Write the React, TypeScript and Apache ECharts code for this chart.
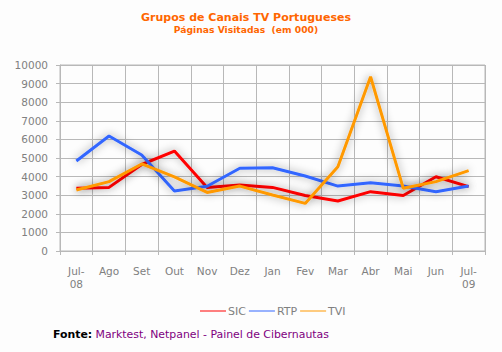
import React, { useEffect, useRef } from "react";
import * as echarts from "echarts";

const categories = ["Jul-\n08", "Ago", "Set", "Out", "Nov", "Dez", "Jan", "Fev", "Mar", "Abr", "Mai", "Jun", "Jul-\n09"];
const sic = [3370, 3420, 4650, 5370, 3420, 3550, 3420, 2980, 2690, 3190, 2980, 3990, 3460];
const rtp = [4840, 6180, 5160, 3230, 3480, 4450, 4480, 4030, 3490, 3670, 3490, 3190, 3490];
const tvi = [3280, 3730, 4680, 3990, 3150, 3490, 3010, 2560, 4530, 9370, 3370, 3730, 4320];
const seriesNames = ["SIC", "RTP", "TVI"];
const colors = ["#ff0000", "#3366ff", "#ff9900"];

const FONT = "'DejaVu Sans', Verdana, sans-serif";
const GRID_COLOR = "#b8b8b8";
const LABEL_COLOR = "#808080";

export default function App() {
  const ref = useRef<HTMLDivElement>(null);
  useEffect(() => {
    if (!ref.current) return;
    const chart = echarts.init(ref.current, undefined, { renderer: "svg" });
    const data = [sic, rtp, tvi];
    chart.setOption({
      animation: false,
      backgroundColor: "#fdfdfd",
      title: {
        text: "Grupos de Canais TV Portugueses",
        subtext: "Páginas Visitadas  (em 000)",
        left: 241,
        textAlign: "center",
        top: 7,
        itemGap: 2,
        textStyle: { fontFamily: FONT, fontSize: 11, fontWeight: "bold", color: "#ff6600" },
        subtextStyle: { fontFamily: FONT, fontSize: 9.2, fontWeight: "bold", color: "#ff6600" },
      },
      legend: {
        left: 195,
        top: 300.5,
        itemWidth: 26,
        itemHeight: 1,
        itemGap: 3,
        icon: "rect",
        textStyle: { fontFamily: FONT, fontSize: 11, color: LABEL_COLOR, padding: [0, 0, 0, -3] },
        data: seriesNames.map((name, i) => ({
          name,
          itemStyle: { color: colors[i], shadowBlur: 0, shadowColor: "transparent", borderWidth: 0 },
          lineStyle: { color: colors[i], width: 1, shadowBlur: 0, shadowColor: "transparent" },
        })),
      },
      grid: { left: 60, right: 17, top: 65, bottom: 101, show: true, borderColor: GRID_COLOR, borderWidth: 1 },
      xAxis: {
        type: "category",
        data: categories,
        boundaryGap: true,
        axisLine: { lineStyle: { color: GRID_COLOR } },
        axisTick: { show: true, length: 4, lineStyle: { color: GRID_COLOR } },
        splitLine: { show: true, lineStyle: { color: GRID_COLOR } },
        axisLabel: { fontFamily: FONT, fontSize: 10.5, color: LABEL_COLOR, margin: 13, lineHeight: 13, interval: 0 },
      },
      yAxis: {
        type: "value",
        min: 0,
        max: 10000,
        interval: 1000,
        axisLine: { show: true, lineStyle: { color: GRID_COLOR } },
        axisTick: { show: true, length: 4, lineStyle: { color: GRID_COLOR } },
        splitLine: { show: true, lineStyle: { color: GRID_COLOR } },
        axisLabel: {
          fontFamily: FONT,
          fontSize: 10.5,
          color: LABEL_COLOR,
          margin: 12,
          formatter: (v: number) => String(v),
        },
      },
      series: seriesNames.map((name, i) => ({
        name,
        type: "line",
        data: data[i],
        showSymbol: false,
        symbol: "none",
        color: colors[i],
        lineStyle: {
          width: 3,
          color: colors[i],
          shadowColor: "rgba(0,0,0,0.4)",
          shadowBlur: 8,
          shadowOffsetX: 0,
          shadowOffsetY: 0,
        },
      })),
      graphic: [
        {
          type: "text",
          left: 53,
          top: 328,
          style: {
            text: "{b|Fonte:} {p|Marktest, Netpanel - Painel de Cibernautas}",
            rich: {
              b: { fontFamily: FONT, fontSize: 10.9, fontWeight: "bold", fill: "#000000" },
              p: { fontFamily: FONT, fontSize: 10.9, fill: "#800080" },
            },
          },
        },
      ],
    });
    return () => chart.dispose();
  }, []);
  return (
    <div style={{ position: "fixed", left: 0, top: 0, width: 502, height: 352 }}>
      <div ref={ref} style={{ width: 502, height: 352 }} />
    </div>
  );
}
